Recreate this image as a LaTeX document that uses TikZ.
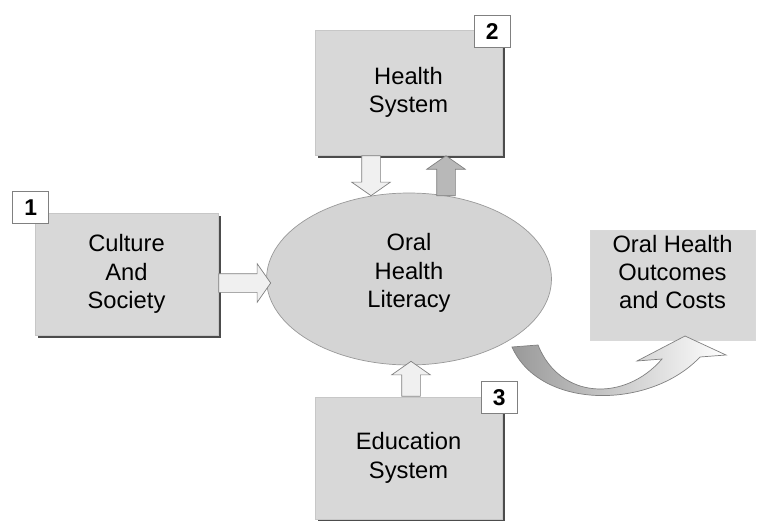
\documentclass[tikz,border=0pt]{standalone}
\usepackage{fontspec}
\setmainfont{Liberation Sans}
\usetikzlibrary{positioning,shapes.geometric,shapes.arrows,shadows,calc}
\definecolor{boxgray}{RGB}{216,216,216}
\definecolor{ovalgray}{RGB}{212,212,212}
\tikzset{
  txt/.style={align=center, text=black, font=\fontsize{13.5}{16.2}\selectfont},
  box/.style={rectangle, fill=boxgray, draw=black!22, txt,
    drop shadow={shadow xshift=1.6pt, shadow yshift=-1.6pt, fill=black!70, opacity=1}},
  plainbox/.style={rectangle, fill=boxgray, draw=black!15, txt},
  tag/.style={rectangle, fill=white, draw=black!50, minimum width=0.72cm, minimum height=0.64cm,
    inner sep=0pt, font=\fontsize{13}{15}\selectfont\bfseries},
  fat/.style={single arrow, draw=black!50, inner xsep=0pt, inner ysep=0.18cm,
    single arrow head extend=0.2cm, single arrow tip angle=110}
}
\begin{document}
\begin{tikzpicture}[x=0.02cm, y=-0.02cm]
  \useasboundingbox (0,0) rectangle (766,520);

  % the centre oval
  \node[ellipse, fill=ovalgray, draw=black!40, minimum width=5.7cm, minimum height=3.44cm,
        label={[txt, yshift=0.12cm]center:Oral\\Health\\Literacy}] (ohl) at (409,279) {};

  % the three systems round it
  \node[box, minimum width=3.74cm, minimum height=2.5cm] (hs) at (408.5,92.5) {Health\\System};
  \node[box, minimum width=3.66cm, minimum height=2.44cm] (cs) at (126.5,274) {Culture\\And\\Society};
  \node[box, minimum width=3.74cm, minimum height=2.44cm] (es) at (408.5,458) {Education\\System};
  \node[plainbox, minimum width=3.3cm, minimum height=2.2cm,
        label={[txt, yshift=0.26cm]center:Oral Health\\Outcomes\\and Costs}] (oc) at (672.5,285) {};

  % number tags
  \node[tag] (n1) at ($(cs.north west)+(-4,-5)$) {1};
  \node[tag] (n2) at ($(hs.north east)+(-10,2)$) {2};
  \node[tag] (n3) at ($(es.north east)+(-3,1)$) {3};

  % block arrows
  \node[fat, fill=black!6, rotate=-90, minimum height=0.8cm, anchor=tail] (hs2ohl)
      at ($(hs.south)+(-37.5,0)$) {};
  \node[fat, fill=black!28, rotate=90, minimum height=0.8cm, anchor=tip] (ohl2hs)
      at ($(hs.south)+(37.5,0)$) {};
  \node[fat, fill=black!6, minimum height=1.04cm, anchor=tail] (cs2ohl)
      at ($(cs.east)+(0,9)$) {};
  \node[fat, fill=black!6, rotate=90, minimum height=0.7cm, anchor=tail] (es2ohl)
      at ($(es.north)+(2.5,0)$) {};

  % curved arrow to the outcomes
  \draw[draw=black!50, left color=black!40, right color=white]
      (512,347) -- (538,345) .. controls (560,400) and (625,402) .. (662,359)
      -- (637,361) -- (685,336) -- (726,355) -- (700,357)
      .. controls (650,410) and (540,410) .. (512,347) -- cycle;
\end{tikzpicture}
\end{document}
